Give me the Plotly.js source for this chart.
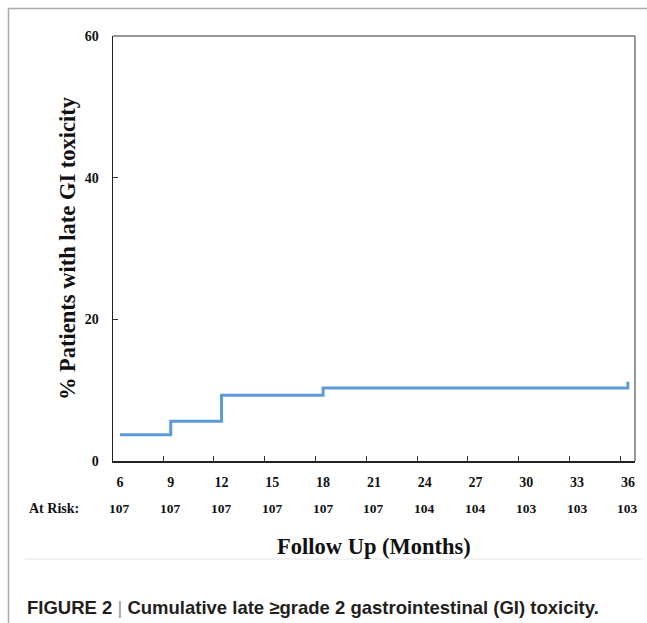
<!DOCTYPE html>
<html>
<head>
<meta charset="utf-8">
<script src="https://cdn.plot.ly/plotly-3.0.1.min.js"></script>
<style>html,body{margin:0;padding:0;background:#fff;}#chart{width:647px;height:623px;}</style>
</head>
<body>
<div id="chart"></div>
<script>
// Data
const eventMonths = [6, 9, 12, 18, 36, 36];
const cumulativePct = [3.7, 5.6, 9.3, 10.3, 10.3, 11.2];
const tickMonths = [6, 9, 12, 15, 18, 21, 24, 27, 30, 33, 36];
const atRisk = [107, 107, 107, 107, 107, 107, 104, 104, 103, 103, 103];
const yTicks = [0, 20, 40, 60];

const serif = "Liberation Serif, Times New Roman, serif";
const sans = "Liberation Sans, Arial, Helvetica, sans-serif";

const L = 113, R = 635, T = 36, B = 461;
const W = R - L, H = B - T;
const px = p => (p - L) / W;
const py = p => (B - p) / H;

const annotations = atRisk.map((n, i) => ({
  x: tickMonths[i], xref: 'x', y: py(508), yref: 'paper',
  text: String(n), showarrow: false, xanchor: 'center', yanchor: 'middle',
  font: {family: serif, size: 13.5, color: '#111', weight: 'bold'}
}));
annotations.push({
  x: px(54), xref: 'paper', y: py(508), yref: 'paper', text: 'At Risk:',
  showarrow: false, xanchor: 'center', yanchor: 'middle',
  font: {family: serif, size: 14, color: '#111', weight: 'bold'}
});
annotations.push({
  x: px(25), xref: 'paper', y: py(607), yref: 'paper',
  text: 'FIGURE 2 <span style="color:#999;font-weight:normal">|</span> Cumulative late \u2265grade 2 gastrointestinal (GI) toxicity.',
  showarrow: false, xanchor: 'left', yanchor: 'middle',
  font: {family: sans, size: 18.5, color: '#231f20', weight: 'bold'}
});

const shapes = [
  // plot frame top & right (gray)
  {type: 'line', xref: 'paper', yref: 'paper', x0: 0, x1: 1, y0: 1, y1: 1, line: {color: '#777', width: 1.5}},
  {type: 'line', xref: 'paper', yref: 'paper', x0: 1, x1: 1, y0: 0, y1: 1, line: {color: '#777', width: 1.5}},
  // outer figure frame
  {type: 'line', xref: 'paper', yref: 'paper', x0: px(8), x1: px(647), y0: py(8.5), y1: py(8.5), line: {color: '#aaa', width: 1.5}},
  {type: 'line', xref: 'paper', yref: 'paper', x0: px(8.5), x1: px(8.5), y0: py(8), y1: py(623), line: {color: '#aaa', width: 1.5}},
  // separator above caption
  {type: 'line', xref: 'paper', yref: 'paper', x0: px(25), x1: px(643), y0: py(559), y1: py(559), line: {color: '#e6e6e6', width: 1}}
];

const data = [{
  x: eventMonths, y: cumulativePct, type: 'scatter', mode: 'lines',
  line: {shape: 'hv', color: '#5b9bd8', width: 3}, hoverinfo: 'skip', showlegend: false
}, {
  x: [eventMonths[0]], y: [cumulativePct[0]], xaxis: 'x2', type: 'scatter', mode: 'markers',
  marker: {opacity: 0}, hoverinfo: 'skip', showlegend: false
}];

const xRange = [5.59, 36.42];
const layout = {
  width: 647, height: 623,
  margin: {l: L, r: 647 - R, t: T, b: 623 - B},
  paper_bgcolor: '#fff', plot_bgcolor: '#fff',
  showlegend: false,
  xaxis: {
    range: xRange, tickvals: tickMonths, ticktext: tickMonths.map(String),
    ticks: '', showgrid: false, zeroline: false,
    showline: true, linecolor: '#222', linewidth: 1.5,
    tickfont: {family: serif, size: 14, color: '#111', weight: 'bold'},
    ticklabelstandoff: 8,
    title: {text: 'Follow Up (Months)', font: {family: serif, size: 22.5, color: '#111', weight: 'bold'}, standoff: 49}
  },
  xaxis2: {
    overlaying: 'x', anchor: 'y', side: 'bottom', range: xRange,
    tick0: 8.55, dtick: 3, ticks: 'inside', ticklen: 5, tickcolor: '#333', tickwidth: 1,
    showticklabels: false, showgrid: false, zeroline: false, showline: false
  },
  yaxis: {
    range: [0, 60], tickvals: yTicks, ticks: 'inside', ticklen: 5, tickcolor: '#333',
    showgrid: false, zeroline: false, showline: true, linecolor: '#222', linewidth: 1.5,
    tickfont: {family: serif, size: 14, color: '#111', weight: 'bold'},
    ticklabelstandoff: 10,
    title: {text: '% Patients with late GI toxicity', font: {family: serif, size: 22.5, color: '#111', weight: 'bold'}, standoff: 3}
  },
  annotations: annotations,
  shapes: shapes
};

Plotly.newPlot('chart', data, layout, {displayModeBar: false, staticPlot: true});
</script>
</body>
</html>
